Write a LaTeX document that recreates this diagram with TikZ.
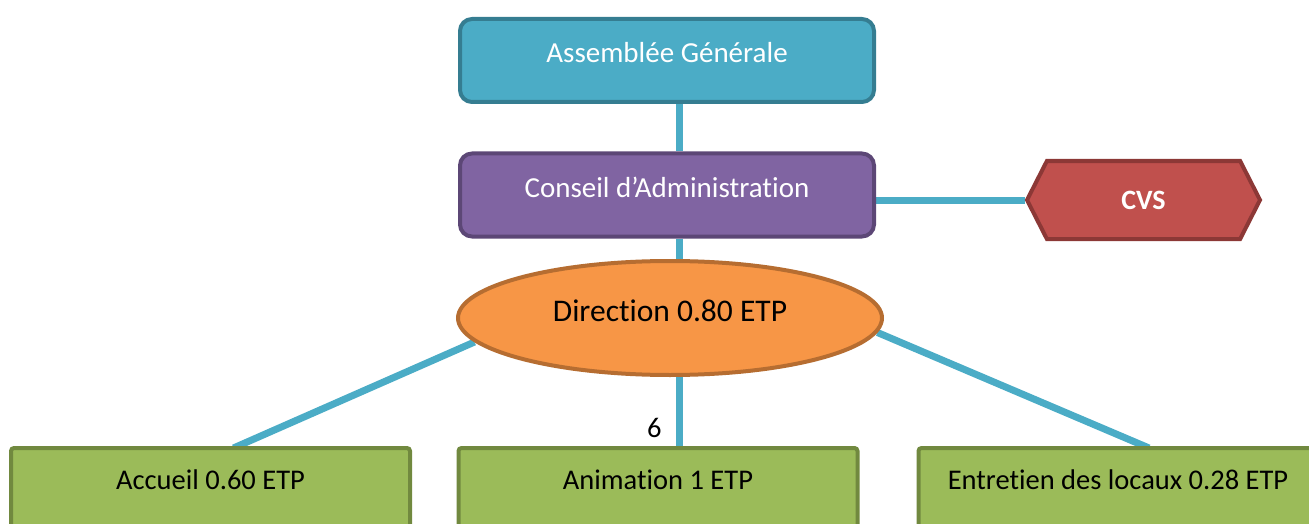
\documentclass[tikz,border=0pt]{standalone}
\usepackage{fontspec}
\setmainfont{Carlito}[Ligatures=NoCommon]
\usetikzlibrary{shapes.geometric,shapes.symbols,backgrounds,calc}
\definecolor{agblue}{HTML}{4BACC6}
\definecolor{agedge}{HTML}{357D91}
\definecolor{caviolet}{HTML}{8064A2}
\definecolor{caedge}{HTML}{5C4776}
\definecolor{dirorange}{HTML}{F79646}
\definecolor{diredge}{HTML}{B66D31}
\definecolor{cvsred}{HTML}{C0504D}
\definecolor{cvsedge}{HTML}{8C3836}
\definecolor{staffgreen}{HTML}{9BBB59}
\definecolor{staffedge}{HTML}{71893F}
\def\spinex{679}

\begin{document}
\begin{tikzpicture}[x=1pt,y=-1pt,
    link/.style={draw=agblue,line width=7pt},
    board/.style={rectangle,rounded corners=12pt,line width=4pt,minimum width=414,minimum height=83,
      text=white,font=\fontsize{29}{35}\selectfont,text height=20pt,text depth=16pt},
    staff/.style={rectangle,rounded corners=3pt,line width=4pt,fill=staffgreen,draw=staffedge,
      minimum width=399,anchor=north,outer sep=0pt,inner ysep=21pt,text height=20pt,text depth=90pt,
      font=\fontsize{28.5}{34}\selectfont}]
  \path[use as bounding box] (0,0) rectangle (1309,524);
  \clip (0,0) rectangle (1309,524);
  \coordinate (spine) at (\spinex,0);

  % upper part
  \node[board,fill=agblue,draw=agedge] (ag) at (667,60.5) {Assemblée Générale};
  \node[board,fill=caviolet,draw=caedge] (ca) at (667,195) {Conseil d’Administration};
  \node[signal,signal to=west and east,signal pointer angle=126,minimum width=233,minimum height=78,
    fill=cvsred,draw=cvsedge,line width=4pt,text=white,font=\fontsize{28}{33}\selectfont\bfseries] (cvs) at (1143.5,200) {CVS};
  \node[ellipse,minimum width=424,minimum height=114,fill=dirorange,draw=diredge,line width=4pt,
    font=\fontsize{31.5}{38}\selectfont,text height=22pt,text depth=14.8pt] (dir) at (670,318) {Direction 0.80 ETP};

  % staff
  \node[staff] (acc) at (210.5,448) {Accueil 0.60 ETP};
  \node[staff] (ani) at (658,448) {Animation 1 ETP};
  \node[staff] (ent) at (1118,448) {Entretien des locaux 0.28 ETP};

  \begin{scope}[on background layer]
    \draw[link] (ag.south -| spine) -- (ca.north -| spine);
    \draw[link] (ca.south -| spine) -- (dir.north -| spine);
    \draw[link] (ca.east |- cvs.west) -- (cvs.west);
    \draw[link] (dir.187) -- ($(acc.north)+(23,0)$);
    \draw[link] (dir.-4) -- ($(ent.north)+(31,0)$);
    \draw[link] (dir.south -| spine) -- (ani.north -| spine)
      node[pos=1,anchor=south east,xshift=-10pt,yshift=3pt,inner sep=4pt,
        font=\fontsize{28.5}{34}\selectfont] (six) {6};
  \end{scope}
\end{tikzpicture}
\end{document}
